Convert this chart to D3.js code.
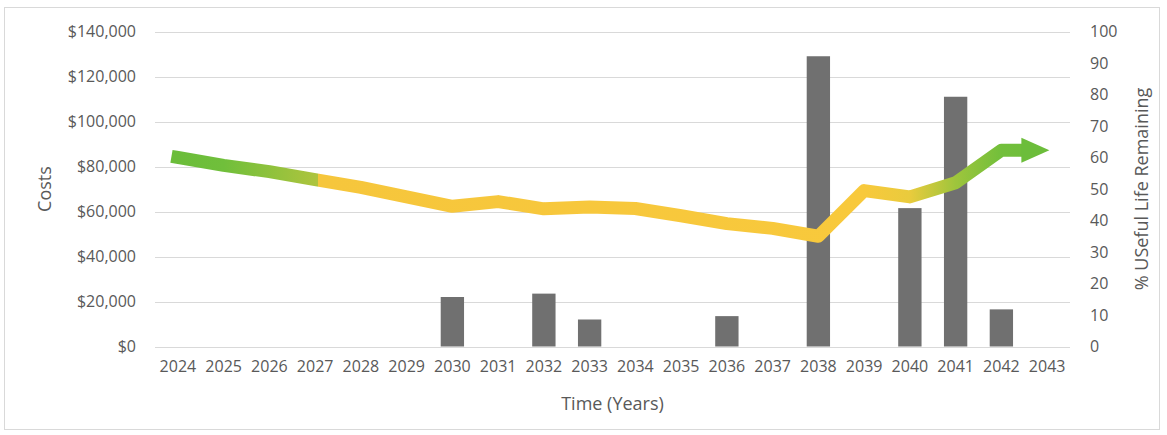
<!DOCTYPE html>
<html>
<head>
<meta charset="utf-8">
<script src="https://cdn.jsdelivr.net/npm/d3@7"></script>
<style>
  html, body { margin: 0; padding: 0; background: #ffffff; }
  svg { display: block; }
  text { font-family: "Open Sans", "Liberation Sans", sans-serif; fill: #595959; }
</style>
</head>
<body>
<svg id="chart" width="1167" height="435"></svg>
<script>
// Years on the category axis
const years = ["2024","2025","2026","2027","2028","2029","2030","2031","2032","2033",
               "2034","2035","2036","2037","2038","2039","2040","2041","2042","2043"];

// Annual costs (left axis, dollars); zero where nothing is spent
const costs = [0, 0, 0, 0, 0, 0, 22000, 0, 23500, 12000,
               0, 0, 13500, 0, 129000, 0, 61500, 111000, 16500, 0];

// % useful life remaining (right axis), 2024 through 2042
const lifeYears = ["2024","2025","2026","2027","2028","2029","2030","2031","2032","2033",
                   "2034","2035","2036","2037","2038","2039","2040","2041","2042"];
const lifeRemaining = [60, 57.5, 55.5, 53, 50.5, 47.5, 44.5, 46, 43.7, 44.3,
                       43.8, 41.5, 39, 37.5, 35, 49.5, 47.5, 52, 62.3];

// Tick values
const costTicks = [0, 20000, 40000, 60000, 80000, 100000, 120000, 140000];
const lifeTicks = [0, 10, 20, 30, 40, 50, 60, 70, 80, 90, 100];

const svg = d3.select("#chart");

// Plot area
const plotLeft = 155, plotRight = 1070, plotTop = 31.5, plotBottom = 346.5;

// Outer frame
svg.append("rect")
  .attr("x", 4.5).attr("y", 7.5)
  .attr("width", 1155).attr("height", 422)
  .attr("fill", "#ffffff")
  .attr("stroke", "#d9d9d9").attr("stroke-width", 1);

const x = d3.scaleBand().domain(years).range([plotLeft, plotRight])
  .paddingInner(0.49).paddingOuter(0.245);
const yCost = d3.scaleLinear().domain([0, 140000]).range([plotBottom, plotTop]);
const yLife = d3.scaleLinear().domain([0, 100]).range([plotBottom, plotTop]);
const cx = d => x(d) + x.bandwidth() / 2;

// Horizontal gridlines
svg.append("g").selectAll("line").data(costTicks).join("line")
  .attr("x1", plotLeft).attr("x2", plotRight)
  .attr("y1", d => Math.round(yCost(d)) + 0.5)
  .attr("y2", d => Math.round(yCost(d)) + 0.5)
  .attr("stroke", "#d9d9d9").attr("stroke-width", 1);

// Cost bars
svg.append("g").selectAll("rect")
  .data(years.map((y, i) => ({ year: y, value: costs[i] })).filter(d => d.value > 0))
  .join("rect")
  .attr("x", d => x(d.year))
  .attr("width", x.bandwidth())
  .attr("y", d => yCost(d.value))
  .attr("height", d => yCost(0) - yCost(d.value))
  .attr("fill", "#707070");

// Colour ramp along the life-remaining line: green -> yellow -> green
const defs = svg.append("defs");
const xStart = cx("2024");
const pts = lifeYears.map((y, i) => [cx(y), yLife(lifeRemaining[i])]);
const last = pts[pts.length - 1];
const shaft = 22, headLen = 26, headHalf = 12.5;
const tipX = last[0] + shaft + headLen;
const frac = px => (px - xStart) / (tipX - xStart);
const grad = defs.append("linearGradient")
  .attr("id", "lifeGrad")
  .attr("gradientUnits", "userSpaceOnUse")
  .attr("x1", xStart).attr("x2", tipX).attr("y1", 0).attr("y2", 0);
[
  [0, "#6bbd3a"],
  [frac(cx("2025")), "#70bf3b"],
  [frac(x("2027") + x.step() * 0.32), "#aec43e"],
  [frac(x("2027") + x.step() * 0.32) + 0.0001, "#f6c63c"],
  [frac(cx("2039")), "#f8c93c"],
  [frac(cx("2040")), "#e9cb3d"],
  [frac(cx("2041")), "#9ec53c"],
  [frac(cx("2042")), "#72bf3b"],
  [1, "#6cbd3b"]
].forEach(([o, c]) => grad.append("stop").attr("offset", o).attr("stop-color", c));

// Life-remaining line, running into a horizontal shaft before the arrow head
const linePts = pts.concat([[last[0] + shaft, last[1]]]);
svg.append("path")
  .attr("d", d3.line()(linePts))
  .attr("fill", "none")
  .attr("stroke", "url(#lifeGrad)")
  .attr("stroke-width", 13)
  .attr("stroke-linejoin", "round")
  .attr("stroke-linecap", "square");

// Arrow head
const hx = last[0] + shaft - 2, hy = last[1];
svg.append("path")
  .attr("d", `M${hx},${hy - headHalf}L${tipX},${hy}L${hx},${hy + headHalf}Z`)
  .attr("fill", "#6cbd3b");

// Axes
const axLeft = svg.append("g")
  .attr("transform", `translate(${plotLeft},0)`)
  .call(d3.axisLeft(yCost).tickValues(costTicks).tickFormat(d3.format("$,.0f"))
        .tickSize(0).tickPadding(19));
const axRight = svg.append("g")
  .attr("transform", `translate(${plotRight},0)`)
  .call(d3.axisRight(yLife).tickValues(lifeTicks).tickSize(0).tickPadding(20));
const axBottom = svg.append("g")
  .attr("transform", `translate(0,${plotBottom})`)
  .call(d3.axisBottom(x).tickSize(0).tickPadding(14));

[axLeft, axRight, axBottom].forEach(g => {
  g.select(".domain").remove();
  g.selectAll("text")
    .attr("font-family", "Open Sans, Liberation Sans, sans-serif")
    .attr("font-size", 16)
    .attr("fill", "#595959");
});

// Axis titles
svg.append("text")
  .attr("transform", `translate(51,${(plotTop + plotBottom) / 2}) rotate(-90)`)
  .attr("text-anchor", "middle")
  .attr("font-size", 18)
  .text("Costs");

svg.append("text")
  .attr("transform", `translate(1148,${(plotTop + plotBottom) / 2}) rotate(-90)`)
  .attr("text-anchor", "middle")
  .attr("font-size", 18)
  .text("% USeful Life Remaining");

svg.append("text")
  .attr("x", (plotLeft + plotRight) / 2)
  .attr("y", 410)
  .attr("text-anchor", "middle")
  .attr("font-size", 18)
  .text("Time (Years)");
</script>
</body>
</html>
